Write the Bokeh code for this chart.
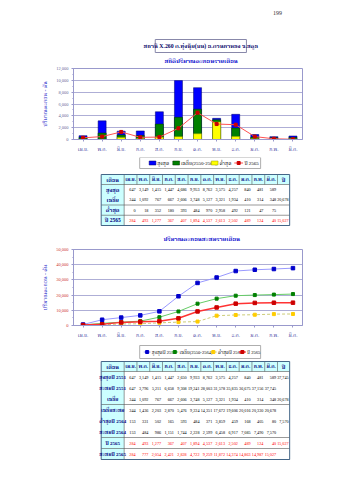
from bokeh.plotting import figure
from bokeh.layouts import column
from bokeh.models import Range1d, FactorRange, FixedTicker, NumeralTickFormatter
from bokeh.core.properties import value
from bokeh.embed import file_html
from bokeh.resources import INLINE

FONT = "'Liberation Serif', 'Noto Serif Thai', serif"
TF = value(FONT)

# ---------------- data ----------------
months = ["เม.ย.", "พ.ค.", "มิ.ย.", "ก.ค.", "ส.ค.", "ก.ย.", "ต.ค.", "พ.ย.", "ธ.ค.", "ม.ค.", "ก.พ.", "มี.ค."]
max_all = [647, 3149, 1415, 1447, 4686, 9953, 8762, 3575, 4257, 840, 481, 589]
avg_all = [344, 1092, 767, 667, 2606, 3748, 5127, 3321, 1934, 410, 314, 348]
avg_total = 20678
min_all = [0, 18, 352, 180, 393, 484, 970, 2958, 492, 121, 47, 75]
y2565 = [284, 493, 1277, 367, 407, 1894, 4537, 2613, 2502, 489, 124, 40]
y2565_total = 15027

max2551 = [647, 3149, 1415, 1447, 2650, 9933, 8762, 3575, 4257, 840, 481, 589]
max2551_total = 37745
cum2551 = [647, 3796, 5211, 6658, 9308, 19241, 28003, 31578, 35835, 36675, 37156, 37745]
cum_avg = [344, 1436, 2203, 2870, 5476, 9224, 14351, 17672, 19606, 20016, 20330, 20678]
min2564 = [153, 331, 502, 165, 593, 484, 371, 3859, 459, 168, 405, 80]
min2564_total = 7570
cum2564 = [153, 484, 986, 1151, 1744, 2228, 2599, 6458, 6917, 7085, 7490, 7570]
cum2565 = [284, 777, 2054, 2421, 2828, 4722, 9259, 11872, 14374, 14863, 14987, 15027]

station = "สถานี X.260 ค.ทุ่งนุ้ย(บน) อ.ควนกาหลง จ.สตูล"
title1 = "สถิติปริมาณตะกอนรายเดือน"
title2 = "ปริมาณตะกอนสะสมรายเดือน"
ylabel = "ปริมาณตะกอน - ตัน"

W = 339
CYAN = "#ccffff"
BLUE = "#0000ff"
GREEN = "#008000"
YELLOW = "#ffff00"
RED = "#ff0000"
FRAME = "#9999cc"


def canvas(y0, h):
    p = figure(width=W, height=h, x_range=Range1d(0, W), y_range=Range1d(y0 + h, y0),
               output_backend="svg", toolbar_location=None, x_axis_type=None, y_axis_type=None,
               min_border=0)
    p.outline_line_color = None
    return p


def txt(p, x, y, s, size="6px", color="#000000", align="center", bold=False, angle=0):
    p.text(x=[x], y=[y], text=[s], text_font=TF, text_font_size=size, text_color=color,
           text_align=align, text_baseline="middle",
           text_font_style="bold" if bold else "normal", angle=angle)


def fmt(v):
    return f"{v:,}"


# ---------------- header ----------------
h0 = canvas(0, 66)
txt(h0, 302, 12, "199", size="6px", color="#333333")
h0.quad(left=[121], right=[256], top=[39], bottom=[52], fill_color="white", line_color="#8888aa", line_width=1)
txt(h0, 188.5, 45.5, station, size="5.8px", color="#000066", bold=True)
txt(h0, 189, 60, title1, size="6px", color="#0000cc", bold=True)


def style_chart(p, label_color):
    p.outline_line_color = FRAME
    p.xgrid.visible = False
    p.ygrid.grid_line_color = FRAME
    p.ygrid.grid_line_width = 0.8
    for ax in (p.xaxis, p.yaxis):
        ax.axis_line_color = FRAME
        ax.major_tick_line_color = FRAME
        ax.minor_tick_line_color = FRAME
        ax.major_tick_in = 0
        ax.major_tick_out = 2
        ax.minor_tick_in = 0
        ax.minor_tick_out = 1
    p.xaxis.major_label_text_font = FONT
    p.xaxis.major_label_text_font_size = "5px"
    p.xaxis.major_label_text_color = "#333399"
    p.xaxis.major_label_standoff = 5
    p.yaxis.major_label_text_font = FONT
    p.yaxis.major_label_text_font_size = "4.5px"
    p.yaxis.major_label_text_color = label_color
    p.yaxis.major_label_standoff = 3
    p.yaxis.formatter = NumeralTickFormatter(format="0,0")
    p.yaxis.axis_label = ylabel
    p.yaxis.axis_label_text_font = FONT
    p.yaxis.axis_label_text_font_size = "5.5px"
    p.yaxis.axis_label_text_font_style = "normal"
    p.yaxis.axis_label_text_color = "#3333cc"
    p.yaxis.axis_label_standoff = 5


# ---------------- chart 1 ----------------
p1 = figure(width=W, height=91, x_range=FactorRange(factors=months), y_range=Range1d(0, 12000),
            output_backend="svg", toolbar_location=None,
            min_border_left=73, min_border_right=37, min_border_top=2, min_border_bottom=18)
p1.vbar(x=months, top=max_all, width=0.42, fill_color=BLUE, line_color="#000066", line_width=0.5)
p1.vbar(x=months, top=avg_all, width=0.42, fill_color=GREEN, line_color="#003300", line_width=0.5)
p1.vbar(x=months, top=min_all, width=0.42, fill_color=YELLOW, line_color="#999900", line_width=0.5)
p1.line(x=months, y=y2565, line_color="#ff5050", line_width=1)
p1.scatter(x=months, y=y2565, marker="square", size=3, fill_color="#cc0000", line_color="#cc0000")
style_chart(p1, "#666699")
p1.yaxis.ticker = FixedTicker(ticks=list(range(0, 12001, 2000)), minor_ticks=list(range(0, 12001, 1000)))


# ---------------- tables ----------------
def draw_table(p, y_top, hdr_h, row_h, rows, breaks, lab_size):
    xl, xlab, xrm, xr = 41, 75, 302, 320
    cw = (xrm - xlab) / 12
    yh = y_top + hdr_h
    yb = yh + row_h * len(rows)
    p.quad(left=[xl], right=[xr], top=[y_top], bottom=[yh], fill_color=CYAN, line_color=None)
    p.quad(left=[xl], right=[xlab], top=[yh], bottom=[yb], fill_color=CYAN, line_color=None)
    centers = [xlab + cw * (i + 0.5) for i in range(12)]
    ymid = y_top + hdr_h / 2
    p.text(x=centers, y=[ymid] * 12, text=months, text_font=TF, text_font_size="5px",
           text_color="#000080", text_align="center", text_baseline="middle", text_font_style="bold")
    txt(p, (xl + xlab) / 2, ymid, "เดือน", size="5.5px", color="#000080", bold=True)
    txt(p, (xrm + xr) / 2, ymid, "ปี", size="5.5px", color="#000080", bold=True)
    xs = [xlab + cw * i for i in range(13)]
    p.segment(x0=xs, y0=[y_top] * 13, x1=xs, y1=[yh] * 13, line_color="#555555", line_width=0.6)
    p.segment(x0=[xlab], y0=[yh], x1=[xlab], y1=[yb], line_color="#555555", line_width=0.6)
    hy = [yh] + [yh + row_h * b for b in breaks]
    p.segment(x0=[xl] * len(hy), y0=hy, x1=[xr] * len(hy), y1=hy, line_color="#555555", line_width=0.6)
    p.quad(left=[xl], right=[xr], top=[y_top], bottom=[yb], fill_color=None, line_color="#446688", line_width=1)
    for i, (lab, vals, tot, col) in enumerate(rows):
        yc = yh + row_h * (i + 0.5)
        txt(p, (xl + xlab) / 2, yc, lab, size=lab_size, color="#000080", bold=True)
        p.text(x=[xlab + cw * (j + 1) - 2 for j in range(12)], y=[yc] * 12,
               text=[fmt(v) for v in vals], text_font=TF, text_font_size="4.2px",
               text_color=col, text_align="right", text_baseline="middle")
        if tot is not None:
            txt(p, xr - 1.5, yc, fmt(tot), size="4.2px", color=col, align="right")


# ---------------- legend 1 + table 1 ----------------
f2 = canvas(157, 73)
f2.quad(left=[98], right=[277], top=[157], bottom=[168], fill_color="white", line_color="#999999", line_width=0.8)
ly = 162.5
f2.quad(left=[112], right=[122], top=[ly - 2], bottom=[ly + 2], fill_color=BLUE, line_color="#000066", line_width=0.5)
txt(f2, 124, ly, "สูงสุด", size="5px", align="left")
f2.quad(left=[147], right=[157], top=[ly - 2], bottom=[ly + 2], fill_color=GREEN, line_color="#003300", line_width=0.5)
txt(f2, 159, ly, "เฉลี่ย(2550-2564)", size="5px", align="left")
f2.quad(left=[204], right=[214], top=[ly - 2], bottom=[ly + 2], fill_color=YELLOW, line_color="#999900", line_width=0.5)
txt(f2, 216, ly, "ต่ำสุด", size="5px", align="left")
f2.segment(x0=[238], y0=[ly], x1=[251], y1=[ly], line_color="#ff5050", line_width=1)
f2.scatter(x=[244.5], y=[ly], marker="square", size=3, fill_color="#cc0000", line_color="#cc0000")
txt(f2, 253, ly, "ปี 2565", size="5px", align="left")

rows1 = [("สูงสุด", max_all, None, "#000000"),
         ("เฉลี่ย", avg_all, avg_total, "#000000"),
         ("ต่ำสุด", min_all, None, "#000000"),
         ("ปี 2565", y2565, y2565_total, RED)]
draw_table(f2, 174, 10, 10.25, rows1, [2, 3, 4], "5.5px")

# ---------------- chart 2 ----------------
f3 = canvas(230, 15)
txt(f3, 190, 238, title2, size="6px", color="#0000cc", bold=True)

p2 = figure(width=W, height=98, x_range=FactorRange(factors=months), y_range=Range1d(0, 50000),
            output_backend="svg", toolbar_location=None,
            min_border_left=73, min_border_right=37, min_border_top=4, min_border_bottom=18)
p2.line(x=months, y=cum2564, line_color="#cccc77", line_width=1, line_dash="3 2")
p2.scatter(x=months, y=cum2564, marker="square", size=3, fill_color="#ffcc00", line_color="#ffcc00")
p2.line(x=months, y=cum_avg, line_color="#66cc66", line_width=1)
p2.scatter(x=months, y=cum_avg, marker="square", size=3, fill_color="#008000", line_color="#008000")
p2.line(x=months, y=cum2551, line_color="#9999ff", line_width=1)
p2.scatter(x=months, y=cum2551, marker="square", size=3.5, fill_color="#0000cc", line_color="#0000cc")
p2.line(x=months, y=cum2565, line_color="#ff3333", line_width=1.5)
p2.scatter(x=months, y=cum2565, marker="square", size=3.5, fill_color="#cc0000", line_color="#cc0000")
style_chart(p2, "#cc3333")
p2.yaxis.ticker = FixedTicker(ticks=list(range(0, 50001, 10000)), minor_ticks=list(range(0, 50001, 5000)))

# ---------------- legend 2 + table 2 ----------------
f5 = canvas(343, 137)
f5.quad(left=[98], right=[277], top=[345], bottom=[358], fill_color="white", line_color="#999999", line_width=0.8)
ly2 = 351.5
f5.segment(x0=[104], y0=[ly2], x1=[114], y1=[ly2], line_color="#9999ff", line_width=1)
f5.scatter(x=[109], y=[ly2], marker="square", size=3, fill_color="#0000cc", line_color="#0000cc")
txt(f5, 116, ly2, "สูงสุดปี 2551", size="4.6px", align="left")
f5.segment(x0=[145], y0=[ly2], x1=[155], y1=[ly2], line_color="#66cc66", line_width=1)
f5.scatter(x=[150], y=[ly2], marker="square", size=3, fill_color="#008000", line_color="#008000")
txt(f5, 157, ly2, "เฉลี่ย(2550-2564)", size="4.6px", align="left")
f5.segment(x0=[202], y0=[ly2], x1=[212], y1=[ly2], line_color="#cccc77", line_width=1, line_dash="3 2")
f5.scatter(x=[207], y=[ly2], marker="square", size=3, fill_color="#ffcc00", line_color="#ffcc00")
txt(f5, 214, ly2, "ต่ำสุดปี 2564", size="4.6px", align="left")
f5.segment(x0=[245], y0=[ly2], x1=[255], y1=[ly2], line_color="#ff3333", line_width=1.5)
f5.scatter(x=[250], y=[ly2], marker="square", size=3, fill_color="#cc0000", line_color="#cc0000")
txt(f5, 257, ly2, "ปี 2565", size="4.6px", align="left")

rows2 = [("สูงสุดปี 2551", max2551, max2551_total, "#000000"),
         ("สะสมปี 2551", cum2551, None, "#000000"),
         ("เฉลี่ย", avg_all, avg_total, "#000000"),
         ("เฉลี่ยสะสม", cum_avg, None, "#000000"),
         ("ต่ำสุดปี 2564", min2564, min2564_total, "#000000"),
         ("สะสมปี 2564", cum2564, None, "#000000"),
         ("ปี 2565", y2565, y2565_total, RED),
         ("สะสมปี 2565", cum2565, None, RED)]
draw_table(f5, 361, 10, 11, rows2, [3, 6, 7, 8], "5px")

layout = column(h0, p1, f2, f3, p2, f5, spacing=0)
open("out.html", "w").write(file_html(layout, INLINE))
